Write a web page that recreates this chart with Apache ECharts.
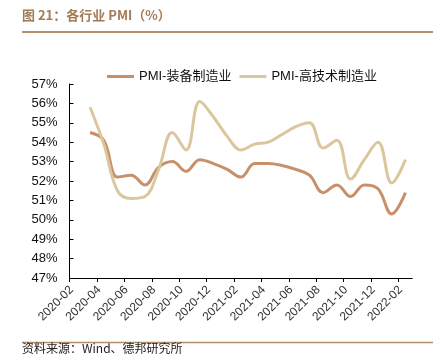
<!DOCTYPE html>
<html>
<head>
<meta charset="utf-8">
<script src="https://cdn.jsdelivr.net/npm/echarts@6/dist/echarts.min.js"></script>
<style>
html,body{margin:0;padding:0;background:#fff;}
#main{width:447px;height:357px;}
</style>
</head>
<body>
<div id="main"></div>
<script>
// Months of data (monthly, 2020-03 to 2022-02)
var months = ['2020-03','2020-04','2020-05','2020-06','2020-07','2020-08','2020-09','2020-10','2020-11','2020-12',
  '2021-01','2021-02','2021-03','2021-04','2021-05','2021-06','2021-07','2021-08','2021-09','2021-10','2021-11','2021-12',
  '2022-01','2022-02'];
// PMI - equipment manufacturing (%)
var equipPMI = [54.5, 54.1, 52.2, 52.3, 51.8, 52.7, 53.0, 52.5, 53.1, 52.9,
  52.6, 52.2, 52.9, 52.9, 52.8, 52.6, 52.3, 51.4, 51.8, 51.2, 51.8, 51.6,
  50.3, 51.4];
// PMI - high-tech manufacturing (%)
var hitechPMI = [55.8, 53.9, 51.5, 51.1, 51.2, 52.6, 54.5, 53.6, 56.1, 55.3,
  54.3, 53.6, 53.9, 54.0, 54.4, 54.8, 55.0, 53.7, 54.1, 52.1, 53.1, 54.0,
  51.9, 53.1];
// X-axis tick labels
var xTickLabels = ['2020-02','2020-04','2020-06','2020-08','2020-10','2020-12','2021-02',
  '2021-04','2021-06','2021-08','2021-10','2021-12','2022-02'];
var seriesNames = ['PMI-装备制造业', 'PMI-高技术制造业'];

// month offset from the first tick label month
function monthOffset(m) {
  var p0 = xTickLabels[0].split('-'), p = m.split('-');
  return (parseInt(p[0]) - parseInt(p0[0])) * 12 + (parseInt(p[1]) - parseInt(p0[1]));
}
var tickPos = xTickLabels.map(monthOffset);
var lastMonth = monthOffset(months[months.length - 1]) + 1;
function toPoints(vals) {
  return vals.map(function (v, i) { return [monthOffset(months[i]) + 0.5, v]; });
}
var labelByPos = {};
xTickLabels.forEach(function (l, i) { labelByPos[tickPos[i]] = l; });

var chart = echarts.init(document.getElementById('main'), null, {renderer: 'canvas'});
chart.setOption({
  animation: false,
  backgroundColor: '#ffffff',
  textStyle: {fontFamily: '"Liberation Sans", Arial, "Noto Sans CJK SC", sans-serif'},
  graphic: [
    {type: 'text', left: 22, top: 9, style: {text: '图 21：各行业 PMI（%）', fill: '#A47B57',
      font: 'bold 13px "Noto Sans CJK SC", sans-serif'}},
    {type: 'line', shape: {x1: 22, y1: 32, x2: 433, y2: 32}, style: {stroke: '#B38E6C', lineWidth: 2}},
    {type: 'line', shape: {x1: 22, y1: 342.5, x2: 433, y2: 342.5}, style: {stroke: '#B38E6C', lineWidth: 1.5}},
    {type: 'text', left: 22, top: 342, style: {text: '资料来源：Wind、德邦研究所', fill: '#222',
      font: '12px "Noto Sans CJK SC", sans-serif'}}
  ],
  legend: {
    left: 102, top: 65,
    icon: 'rect', itemWidth: 27, itemHeight: 3, itemGap: 8,
    textStyle: {fontSize: 13, color: '#111', fontFamily: '"Liberation Sans", "Noto Sans CJK SC", sans-serif'},
    data: seriesNames
  },
  grid: {left: 69.5, right: 34.7, top: 84, bottom: 79, containLabel: false},
  xAxis: {
    type: 'value', min: 0, max: lastMonth,
    axisLine: {show: true, lineStyle: {color: '#000', width: 1}},
    axisTick: {show: true, inside: false, length: 4, lineStyle: {color: '#000'}, customValues: tickPos},
    axisLabel: {
      customValues: tickPos, rotate: 45, fontSize: 12, color: '#333', margin: 12,
      padding: [0, -3, 0, 0],
      formatter: function (v) { return labelByPos[v] || ''; }
    },
    splitLine: {show: false}
  },
  yAxis: {
    type: 'value', min: 47, max: 57, interval: 1,
    axisLine: {show: true, lineStyle: {color: '#000', width: 1}},
    axisTick: {show: true, inside: true, length: 4, lineStyle: {color: '#000'}},
    axisLabel: {fontSize: 13, color: '#111', margin: 12, formatter: '{value}%'},
    splitLine: {show: false}
  },
  series: [
    {name: seriesNames[0], type: 'line', data: toPoints(equipPMI), smooth: 0.4, showSymbol: false,
      lineStyle: {color: '#C8906A', width: 3}, itemStyle: {color: '#C8906A'}},
    {name: seriesNames[1], type: 'line', data: toPoints(hitechPMI), smooth: 0.4, showSymbol: false,
      lineStyle: {color: '#DBC79D', width: 3}, itemStyle: {color: '#DBC79D'}}
  ]
});
</script>
</body>
</html>
